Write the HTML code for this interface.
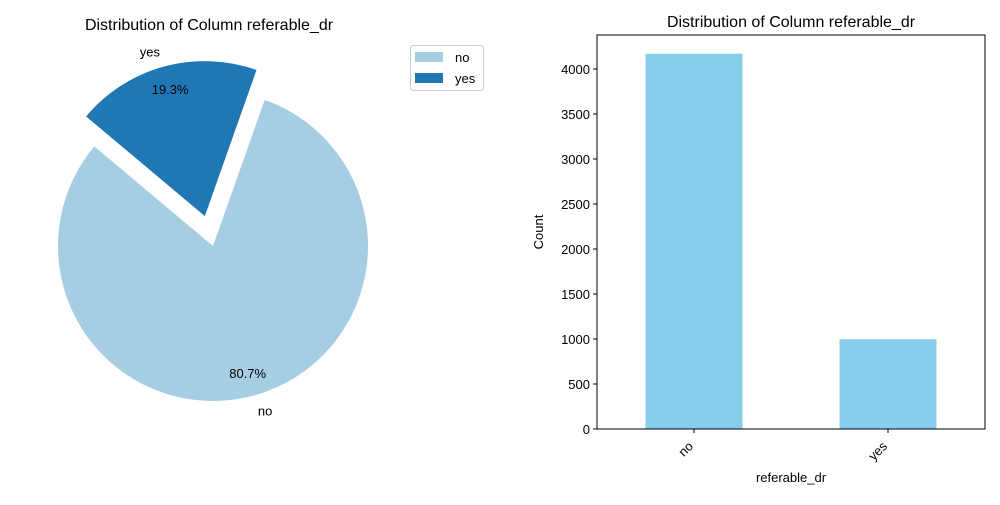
<!DOCTYPE html>
<html><head><meta charset="utf-8"><style>
body{margin:0;background:#fff;width:1000px;height:500px;overflow:hidden}
svg text{font-family:"Liberation Sans","DejaVu Sans",sans-serif;fill:#000}
</style></head><body>
<svg id="c" width="1000" height="500"></svg>
<script>
const pieLabels=["no","yes"];
const pieValues=[80.7,19.3];
const pieColors=["#a6cee3","#1f78b4"];
const pieExplode=[0,0.2];
const barCats=["no","yes"];
const barValues=[4170,998];
const yTicks=[0,500,1000,1500,2000,2500,3000,3500,4000];
const NS="http://www.w3.org/2000/svg";
const svg=document.getElementById('c');
function mk(t,a,p){const e=document.createElementNS(NS,t);for(const k in a)e.setAttribute(k,a[k]);(p||svg).appendChild(e);return e;}
// Pie
const cx=213,cy=246,R=155,start=140;
const tot=pieValues.reduce((a,b)=>a+b,0);
let ang=start;
const pg=mk('g',{});


pieValues.forEach((v,i)=>{
 const sweep=v/tot*360,a0=ang,a1=ang+sweep,mid=(a0+a1)/2*Math.PI/180;
 const ox=cx+Math.cos(mid)*R*pieExplode[i],oy=cy-Math.sin(mid)*R*pieExplode[i];
 const r0=a0*Math.PI/180,r1=a1*Math.PI/180;
 const x0=ox+R*Math.cos(r0),y0=oy-R*Math.sin(r0),x1=ox+R*Math.cos(r1),y1=oy-R*Math.sin(r1);
 const p=mk('path',{d:`M${ox},${oy}L${x0},${y0}A${R},${R} 0 ${sweep>180?1:0} 0 ${x1},${y1}Z`,fill:pieColors[i]},pg);
 
 
 const lt=mk('text',{x:ox+1.1*R*Math.cos(mid),y:oy-1.1*R*Math.sin(mid)+5,'font-size':13,'text-anchor':Math.cos(mid)>0?'start':'end'},pg);
 lt.textContent=pieLabels[i];
 
 
 const pt=mk('text',{x:ox+0.85*R*Math.cos(mid),y:oy-0.85*R*Math.sin(mid)+5,'font-size':13,'text-anchor':'middle'},pg);
 pt.textContent=v.toFixed(1)+'%';
 
 
 ang=a1;
});
const t1=mk('text',{x:209,y:30,'font-size':16,'text-anchor':'middle'});t1.textContent='Distribution of Column referable_dr';

// Legend
const lg=mk('g',{});

mk('rect',{x:410.5,y:45.5,width:73,height:45,rx:3,fill:'#fff',stroke:'#ccc'},lg);
pieLabels.forEach((l,i)=>{
 const e=mk('g',{},lg);
 
 mk('rect',{x:415,y:52+i*21,width:28,height:10,fill:pieColors[i]},e);
 const t=mk('text',{x:455,y:62+i*21,'font-size':13},e);t.textContent=l;
});
// Bar chart
const L=597,Rr=985,T=35,B=429,ymax=4378;
const ys=v=>B-v/ymax*(B-T);
const xs=i=>L+(i+0.5)/2*(Rr-L);
const bg=mk('g',{});

barValues.forEach((v,i)=>{
 const w=0.5/2*(Rr-L);
 const r=mk('rect',{x:xs(i)-w/2,y:ys(v),width:w,height:B-ys(v),fill:'#87ceeb'},bg);
 
 mk('line',{x1:xs(i),x2:xs(i),y1:B,y2:B+4,stroke:'#000'},bg);
 const t=mk('text',{x:0,y:0,'font-size':13,'text-anchor':'end',transform:`translate(${xs(i)+0},${B+18}) rotate(-45)`},bg);
 t.textContent=barCats[i];
 
});
yTicks.forEach(v=>{
 mk('line',{x1:L-4,x2:L,y1:ys(v),y2:ys(v),stroke:'#000'},bg);
 const t=mk('text',{x:L-7,y:ys(v)+5,'font-size':13,'text-anchor':'end'},bg);t.textContent=v;
 
});
const ax=mk('rect',{x:L,y:T,width:Rr-L,height:B-T,fill:'none',stroke:'#000','stroke-width':1},bg);

const t2=mk('text',{x:791,y:27,'font-size':16,'text-anchor':'middle'});t2.textContent='Distribution of Column referable_dr';

const xl=mk('text',{x:791,y:482,'font-size':13,'text-anchor':'middle'});xl.textContent='referable_dr';

const yl=mk('text',{x:0,y:0,'font-size':13,'text-anchor':'middle',transform:'translate(543,232) rotate(-90)'});yl.textContent='Count';

</script>
</body></html>
